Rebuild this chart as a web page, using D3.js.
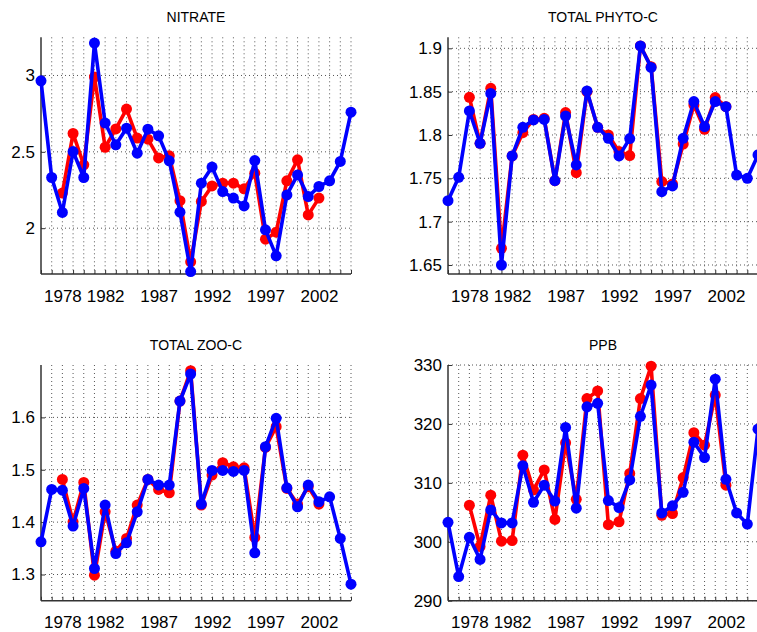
<!DOCTYPE html>
<html>
<head>
<meta charset="utf-8">
<script src="https://cdn.jsdelivr.net/npm/d3@7"></script>
<style>
  html, body { margin: 0; padding: 0; background: #fff; }
  svg { display: block; }
  text { font-family: "Liberation Sans", Arial, Helvetica, sans-serif; fill: #000; }
</style>
</head>
<body>
<svg id="chart" width="757" height="632"></svg>
<script>
// Years 1976–2005; the red series covers 1978–2002 only (null elsewhere).
const years = d3.range(1976, 2006);
const labelYears = [1978, 1982, 1987, 1992, 1997, 2002];

const nitrateRed = [null, null, 2.23, 2.62, 2.415, 2.99, 2.53, 2.65, 2.78, 2.59, 2.583, 2.46, 2.474, 2.18, 1.78, 2.175, 2.277, 2.295, 2.295, 2.258, 2.36, 1.928, 1.974, 2.31, 2.448, 2.087, 2.197, null, null, null];
const nitrateBlue = [2.965, 2.332, 2.103, 2.502, 2.332, 3.212, 2.688, 2.546, 2.655, 2.491, 2.648, 2.605, 2.441, 2.105, 1.716, 2.295, 2.40, 2.24, 2.197, 2.146, 2.443, 1.989, 1.819, 2.218, 2.349, 2.207, 2.273, 2.31, 2.437, 2.76];
const nitrateTicks = [2, 2.5, 3];

const phytoRed = [null, null, 1.8435, 1.7904, 1.8538, 1.6692, 1.7758, 1.8027, 1.818, 1.8192, 1.7473, 1.8258, 1.7565, 1.85, 1.8088, 1.80, 1.7808, 1.7762, 1.9027, 1.8788, 1.7462, 1.7435, 1.7896, 1.8346, 1.8065, 1.8431, 1.8327, null, null, null];
const phytoBlue = [1.7242, 1.7512, 1.8277, 1.7904, 1.848, 1.65, 1.7758, 1.8088, 1.8173, 1.818, 1.7473, 1.8219, 1.7654, 1.8508, 1.8088, 1.7962, 1.7758, 1.7958, 1.9027, 1.878, 1.7346, 1.7412, 1.7962, 1.8385, 1.8096, 1.8385, 1.8327, 1.7538, 1.75, 1.777];
const phytoTicks = [1.65, 1.7, 1.75, 1.8, 1.85, 1.9];

const zooRed = [null, null, 1.4815, 1.4006, 1.4758, 1.2987, 1.4197, 1.3446, 1.3688, 1.4325, 1.4815, 1.4624, 1.456, 1.6312, 1.6892, 1.4325, 1.4898, 1.5134, 1.5057, 1.5038, 1.3707, 1.5427, 1.5822, 1.4643, 1.4344, 1.4675, 1.4344, null, null, null];
const zooBlue = [1.3624, 1.4624, 1.4611, 1.3924, 1.4643, 1.3115, 1.4325, 1.340, 1.3605, 1.4197, 1.4815, 1.4707, 1.4707, 1.6312, 1.6828, 1.4344, 1.4987, 1.4987, 1.4968, 1.4987, 1.3414, 1.5439, 1.5981, 1.4656, 1.4293, 1.4707, 1.4389, 1.4484, 1.3688, 1.2815];
const zooTicks = [1.3, 1.4, 1.5, 1.6];

const ppbRed = [null, null, 306.2, 299.2, 307.9, 300.1, 300.2, 314.7, 308.8, 312.2, 303.8, 316.8, 307.2, 324.3, 325.6, 302.9, 303.4, 311.6, 324.3, 329.8, 304.5, 304.8, 310.9, 318.5, 316.4, 324.9, 309.6, null, null, null];
const ppbBlue = [303.3, 294.1, 300.75, 297.0, 305.4, 303.2, 303.2, 312.9, 306.7, 309.6, 306.9, 319.4, 305.7, 322.9, 323.5, 307.0, 305.8, 310.5, 321.3, 326.6, 304.9, 306.1, 308.4, 316.9, 314.3, 327.6, 310.6, 304.9, 303.0, 319.1];
const ppbTicks = [290, 300, 310, 320, 330];

const svg = d3.select("#chart");
const plotW = 310;

const panels = [
  { title: "NITRATE",       red: nitrateRed, blue: nitrateBlue, ticks: nitrateTicks, domain: [1.70, 3.25],     x: 41,  y: 37.3, h: 236.7 },
  { title: "TOTAL PHYTO-C", red: phytoRed,   blue: phytoBlue,   ticks: phytoTicks,   domain: [1.6396, 1.9127], x: 448, y: 37.3, h: 236.7 },
  { title: "TOTAL ZOO-C",   red: zooRed,     blue: zooBlue,     ticks: zooTicks,     domain: [1.25, 1.70],     x: 41,  y: 365,  h: 235.7 },
  { title: "PPB",           red: ppbRed,     blue: ppbBlue,     ticks: ppbTicks,     domain: [290, 330],       x: 448, y: 365,  h: 235.7 }
];

const fmt = v => String(+v.toFixed(3));

panels.forEach(p => {
  const g = svg.append("g").attr("transform", `translate(${p.x},${p.y})`);
  const x = d3.scaleLinear().domain([1976, 2005]).range([0, plotW]);
  const y = d3.scaleLinear().domain(p.domain).range([p.h, 0]);

  // dotted grid: one vertical line per year, one horizontal line per y tick
  g.append("g").selectAll("line").data(years.slice(1)).join("line")
    .attr("x1", d => x(d)).attr("x2", d => x(d))
    .attr("y1", 0).attr("y2", p.h)
    .attr("stroke", "#555").attr("stroke-width", 1)
    .attr("stroke-dasharray", "1,3");
  g.append("g").selectAll("line").data(p.ticks).join("line")
    .attr("x1", 0).attr("x2", plotW)
    .attr("y1", d => y(d)).attr("y2", d => y(d))
    .attr("stroke", "#555").attr("stroke-width", 1)
    .attr("stroke-dasharray", "1,3");

  // axes: every year ticked, selected years labelled; ticks point inward
  const xAxis = d3.axisBottom(x).tickValues(years).tickSizeInner(-4).tickSizeOuter(0)
    .tickFormat(d => labelYears.includes(d) ? String(d) : "");
  const gx = g.append("g").attr("transform", `translate(0,${p.h})`).call(xAxis);
  gx.selectAll("text").attr("font-size", 17).attr("dy", 0).attr("y", 27.5)
    .attr("font-family", "Liberation Sans, Arial, sans-serif");

  const yAxis = d3.axisLeft(y).tickValues(p.ticks).tickSizeInner(-4).tickSizeOuter(0).tickFormat(fmt);
  const gy = g.append("g").call(yAxis);
  gy.selectAll("text").attr("font-size", 17).attr("x", -6)
    .attr("font-family", "Liberation Sans, Arial, sans-serif");

  [gx, gy].forEach(a => {
    a.select(".domain").remove();
    a.selectAll(".tick line").attr("stroke", "#333").attr("stroke-width", 1);
  });
  g.append("line").attr("x1", 0).attr("x2", 0).attr("y1", 0).attr("y2", p.h)
    .attr("stroke", "#333").attr("stroke-width", 1.5);
  g.append("line").attr("x1", 0).attr("x2", plotW).attr("y1", p.h).attr("y2", p.h)
    .attr("stroke", "#333").attr("stroke-width", 1.5);

  // title
  g.append("text").attr("x", plotW / 2).attr("y", -15).attr("text-anchor", "middle")
    .attr("font-size", 14).text(p.title);

  // series: red first, blue on top
  [[p.red, "#ff0000"], [p.blue, "#0000ff"]].forEach(([vals, col]) => {
    const pts = years.map((yr, i) => ({ yr, v: vals[i] })).filter(d => d.v != null);
    const line = d3.line().x(d => x(d.yr)).y(d => y(d.v));
    g.append("path").datum(pts).attr("d", line)
      .attr("fill", "none").attr("stroke", col).attr("stroke-width", 3.6)
      .attr("stroke-linejoin", "round");
    g.append("g").selectAll("circle").data(pts).join("circle")
      .attr("cx", d => x(d.yr)).attr("cy", d => y(d.v)).attr("r", 5.5)
      .attr("fill", col);
  });
});
</script>
</body>
</html>
